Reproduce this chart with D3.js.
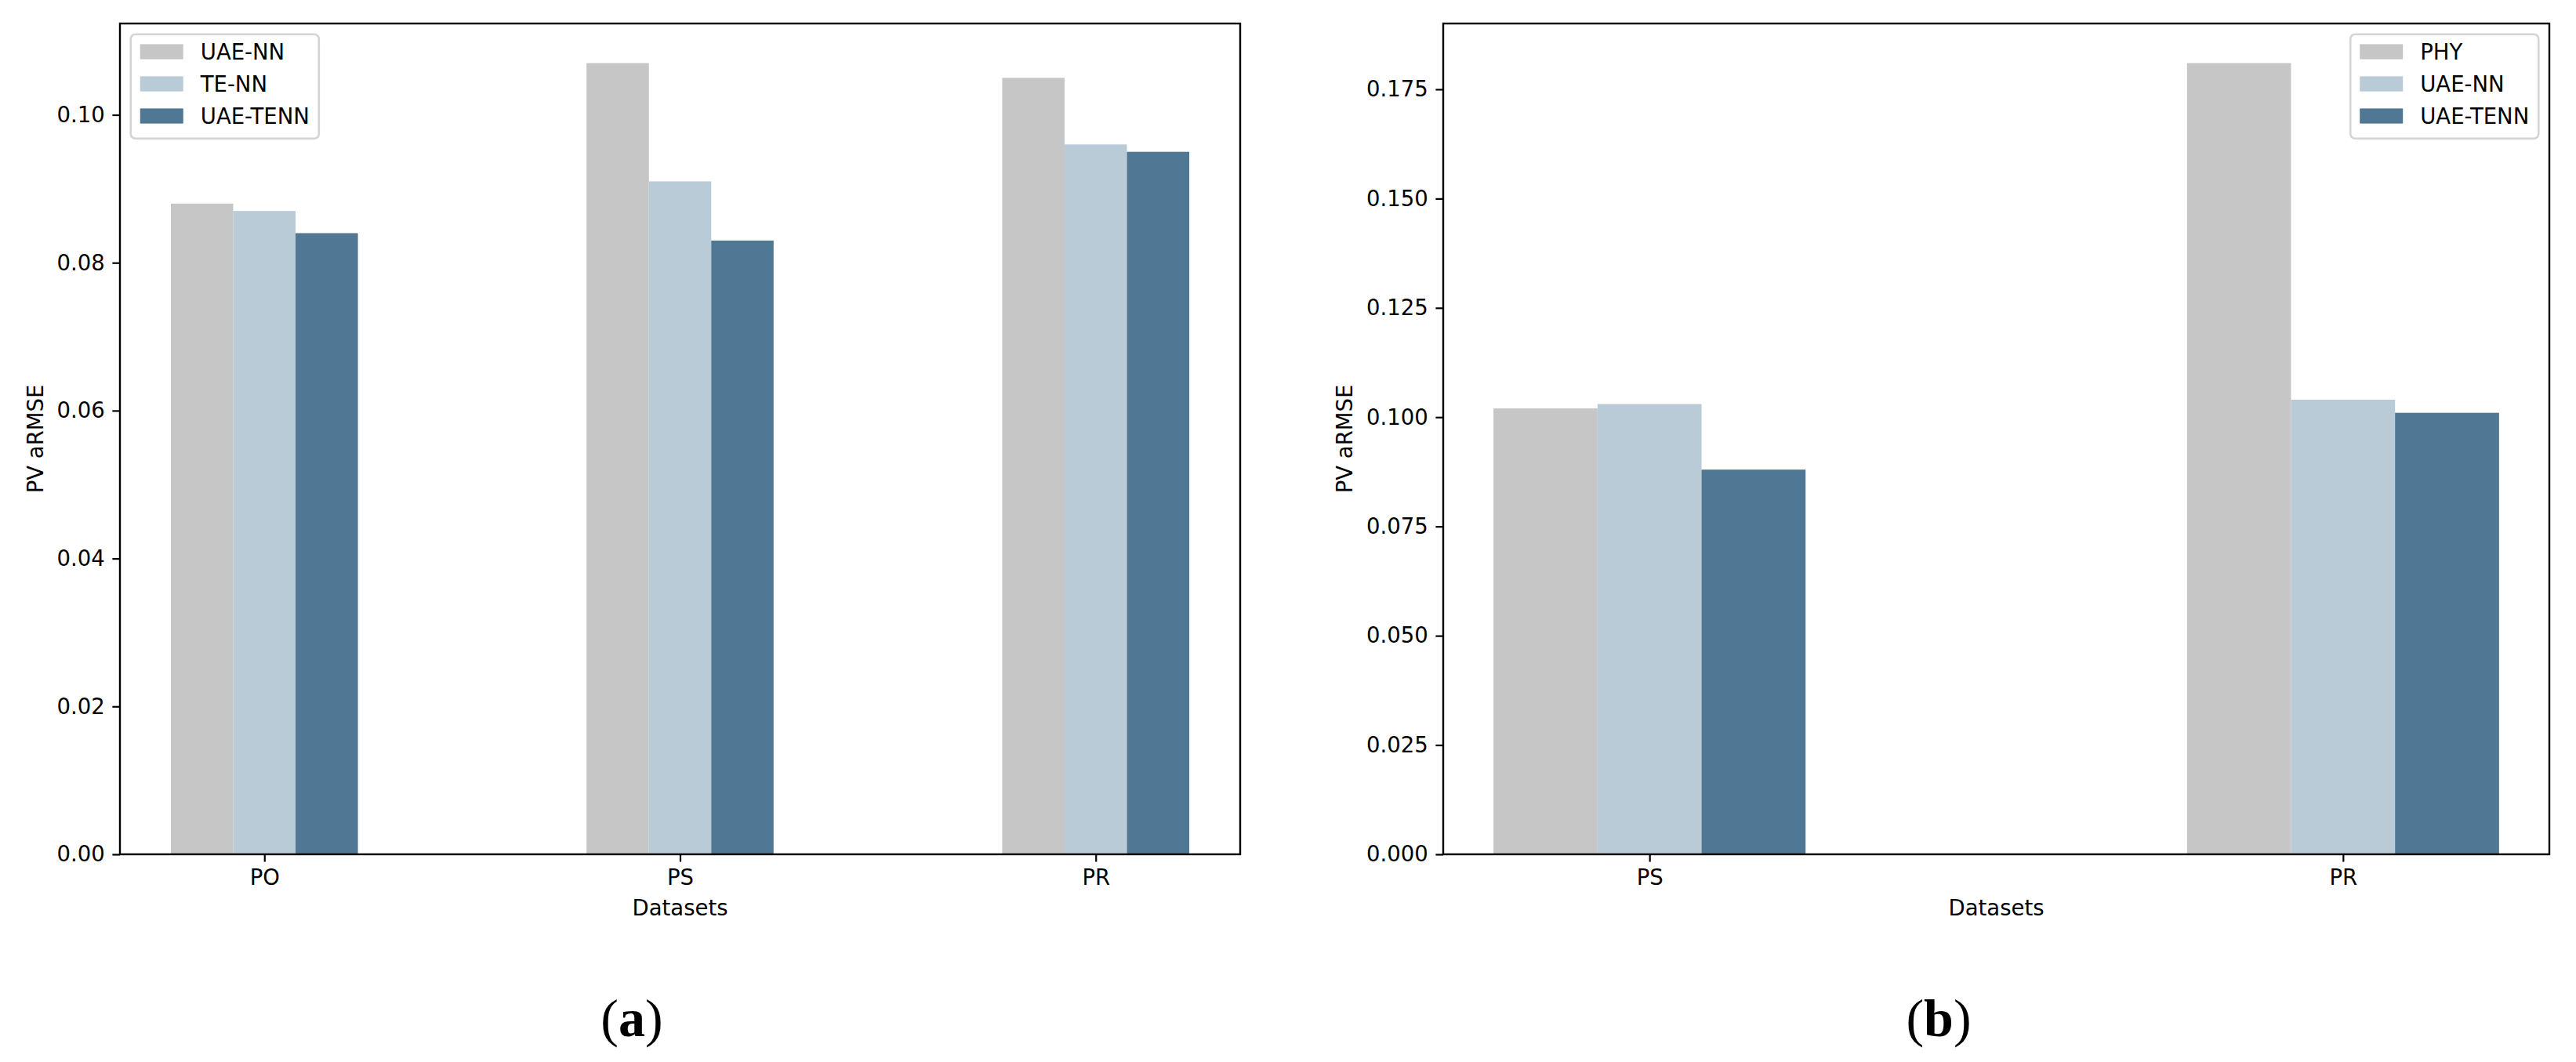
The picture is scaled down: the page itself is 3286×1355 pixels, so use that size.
<!DOCTYPE html>
<html>
<head>
<meta charset="utf-8">
<script src="https://cdn.jsdelivr.net/npm/d3@7"></script>
<style>
  html, body { margin: 0; padding: 0; background: #fff; }
  svg { display: block; }
  text { font-family: "DejaVu Sans", sans-serif; }
  text.caption { font-family: "Liberation Serif", "DejaVu Serif", serif; }
</style>
</head>
<body>
<svg id="chart" width="3286" height="1355"></svg>
<script>
// ---------------- data ----------------
const categoriesA = ["PO", "PS", "PR"];
const seriesA = ["UAE-NN", "TE-NN", "UAE-TENN"];
const uaeNN_A   = [0.088, 0.107, 0.105];
const teNN_A    = [0.087, 0.091, 0.096];
const uaeTENN_A = [0.084, 0.083, 0.095];
const ticksA = [0.00, 0.02, 0.04, 0.06, 0.08, 0.10];
const tickLabelsA = ["0.00", "0.02", "0.04", "0.06", "0.08", "0.10"];

const categoriesB = ["PS", "PR"];
const seriesB = ["PHY", "UAE-NN", "UAE-TENN"];
const phy_B     = [0.102, 0.181];
const uaeNN_B   = [0.103, 0.104];
const uaeTENN_B = [0.088, 0.101];
const ticksB = [0.000, 0.025, 0.050, 0.075, 0.100, 0.125, 0.150, 0.175];
const tickLabelsB = ["0.000", "0.025", "0.050", "0.075", "0.100", "0.125", "0.150", "0.175"];

const colors = ["#c6c6c6", "#b9cbd7", "#507794"];
const yLabel = "PV aRMSE";
const xLabel = "Datasets";

// ---------------- layout ----------------
const FS = 27.5;           // font size (10pt at figure dpi)
const TICK = 9.6, PAD = 9.6, SPINE = 2.4;
const BARW = 0.15;
const svg = d3.select("#chart");

function panel(opts) {
  const { left, right, top, bottom, cats, series, data, ticks, tickLabels,
          legendSide, caption, captionX, ylabelX } = opts;
  const n = cats.length;
  const dataMin = -1.5 * BARW, dataMax = (n - 1) + 1.5 * BARW;
  const m = 0.05 * (dataMax - dataMin);
  const x = d3.scaleLinear().domain([dataMin - m, dataMax + m]).range([left, right]);
  const yMax = d3.max(data.flat()) * 1.05;
  const y = d3.scaleLinear().domain([0, yMax]).range([bottom, top]);
  const g = svg.append("g");

  // bars
  series.forEach((s, j) => {
    g.append("g").selectAll("rect").data(data[j]).join("rect")
      .attr("x", (d, i) => x(i + (j - 1) * BARW - BARW / 2))
      .attr("width", x(BARW) - x(0))
      .attr("y", d => y(d))
      .attr("height", d => y(0) - y(d))
      .attr("fill", colors[j]);
  });

  // y axis
  const ya = g.append("g").attr("transform", `translate(${left},0)`)
    .call(d3.axisLeft(y).tickValues(ticks).tickFormat((d, i) => tickLabels[i])
      .tickSizeInner(TICK).tickSizeOuter(0).tickPadding(PAD));
  ya.select(".domain").remove();
  ya.selectAll(".tick line").attr("stroke", "#000").attr("stroke-width", 2.2);
  ya.selectAll(".tick text").attr("font-size", FS).attr("fill", "#000");

  // x axis
  const xa = g.append("g").attr("transform", `translate(0,${bottom})`)
    .call(d3.axisBottom(x).tickValues(d3.range(n)).tickFormat(i => cats[i])
      .tickSizeInner(TICK).tickSizeOuter(0).tickPadding(PAD));
  xa.select(".domain").remove();
  xa.selectAll(".tick line").attr("stroke", "#000").attr("stroke-width", 2.2);
  xa.selectAll(".tick text").attr("font-size", FS).attr("fill", "#000");

  // spines (box)
  g.append("rect").attr("x", left).attr("y", top)
    .attr("width", right - left).attr("height", bottom - top)
    .attr("fill", "none").attr("stroke", "#000").attr("stroke-width", SPINE);

  // axis labels
  g.append("text").attr("x", (left + right) / 2).attr("y", bottom + 78)
    .attr("text-anchor", "middle").attr("font-size", FS).text(xLabel);
  g.append("text").attr("transform", `translate(${ylabelX},${(top + bottom) / 2}) rotate(-90)`)
    .attr("text-anchor", "middle").attr("font-size", FS).text(yLabel);

  // legend
  const bp = 0.4 * FS, hl = 2.0 * FS, htp = 0.8 * FS, hh = 0.7 * FS, rowH = 41;
  const lg = g.append("g");
  const frame = lg.append("rect");
  const texts = [];
  series.forEach((s, j) => {
    const cy = top + 36 + j * rowH;
    lg.append("rect").attr("class", "patch")
      .attr("y", cy - hh / 2).attr("width", hl).attr("height", hh).attr("fill", colors[j]);
    texts.push(lg.append("text").attr("y", cy + 0.36 * FS).attr("font-size", FS).text(s));
  });
  const tw = d3.max(texts, t => t.node().getComputedTextLength());
  const boxW = bp + hl + htp + tw + bp + 2;
  const boxH = 3 * rowH + 10;
  const boxX = legendSide === "left" ? left + 0.5 * FS : right - 0.5 * FS - boxW;
  const boxY = top + 0.5 * FS;
  frame.attr("x", boxX).attr("y", boxY).attr("width", boxW).attr("height", boxH)
    .attr("rx", 6).attr("ry", 6)
    .attr("fill", "#fff").attr("fill-opacity", 0.8)
    .attr("stroke", "#d4d4d4").attr("stroke-width", 2.6);
  lg.selectAll("rect.patch").attr("x", boxX + bp + 1);
  texts.forEach(t => t.attr("x", boxX + bp + 1 + hl + htp));

  // caption
  const cap = svg.append("text").attr("class", "caption")
    .attr("x", captionX).attr("y", 1322)
    .attr("text-anchor", "middle").attr("font-size", 68);
  cap.append("tspan").text("(");
  cap.append("tspan").attr("font-weight", "bold").text(caption);
  cap.append("tspan").text(")");
}

panel({
  left: 153, right: 1582, top: 30, bottom: 1090,
  cats: categoriesA, series: seriesA, data: [uaeNN_A, teNN_A, uaeTENN_A],
  ticks: ticksA, tickLabels: tickLabelsA, legendSide: "left",
  caption: "a", captionX: 806, ylabelX: 55
});
panel({
  left: 1841, right: 3252, top: 30, bottom: 1090,
  cats: categoriesB, series: seriesB, data: [phy_B, uaeNN_B, uaeTENN_B],
  ticks: ticksB, tickLabels: tickLabelsB, legendSide: "right",
  caption: "b", captionX: 2473, ylabelX: 1725
});
</script>
</body>
</html>
